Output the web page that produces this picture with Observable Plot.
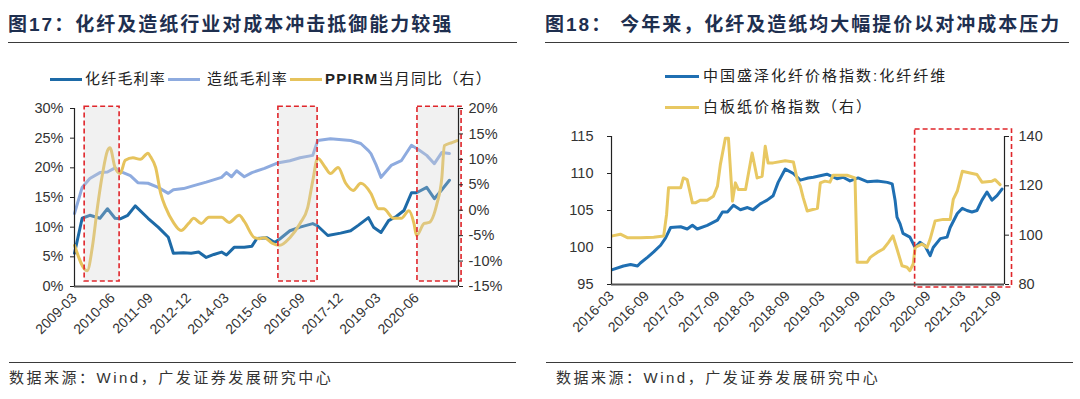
<!DOCTYPE html>
<html><head><meta charset="utf-8">
<script src="https://cdn.jsdelivr.net/npm/d3@7"></script>
<script src="https://cdn.jsdelivr.net/npm/@observablehq/plot@0.6"></script>
<style>
body{margin:0;background:#fff;}
#wrap{position:relative;width:1080px;height:399px;overflow:hidden;font-family:"Noto Sans CJK SC",sans-serif;background:#fff;}
.title{position:absolute;top:13px;font-size:19px;font-weight:700;color:#1e2f4f;letter-spacing:2px;white-space:nowrap;line-height:24px;font-family:"Liberation Sans","Noto Sans CJK SC",sans-serif;}
.rule{position:absolute;height:0;border-top:1.5px solid #3a3a3a;}
.legtxt{position:absolute;font-size:15px;color:#222;white-space:nowrap;line-height:20px;font-family:"Liberation Sans","Noto Sans CJK SC",sans-serif;}
.sw{position:absolute;height:3px;}
.foot{position:absolute;top:368px;font-size:15px;color:#333;letter-spacing:2.5px;white-space:nowrap;line-height:20px;font-family:"Liberation Sans","Noto Sans CJK SC",sans-serif;}
.plot{position:absolute;top:0;}
</style></head>
<body>
<div id="wrap"></div>
<script>
// ---------------- Left chart (图17) data ----------------
const fiberDates = ["2009-03","2009-06","2009-09","2010-01","2010-04","2010-07","2010-09","2010-12","2011-03","2011-08","2011-12","2012-04","2012-06","2012-10","2013-01","2013-04","2013-07","2013-10","2014-01","2014-03","2014-06","2014-10","2015-01","2015-03","2015-07","2015-10","2015-12","2016-04","2016-08","2017-01","2017-03","2017-07","2017-12","2018-04","2018-07","2018-11","2019-01","2019-04","2019-07","2019-10","2020-01","2020-04","2020-06","2020-10","2021-01","2021-04","2021-07"];
const fiberMargin = [5.6,11.5,12.0,11.5,13.1,11.5,11.4,12.0,13.6,11.5,10.0,8.3,5.6,5.7,5.6,5.8,4.9,5.4,5.8,5.3,6.6,6.6,6.8,8.1,8.2,7.4,8.0,9.4,10.0,10.6,10.2,8.6,9.0,9.4,10.3,11.6,10.0,9.1,11.1,11.8,12.8,15.8,15.8,16.7,14.8,16.3,17.9];

const paperDates = ["2009-03","2009-06","2009-09","2010-01","2010-04","2010-07","2010-09","2011-01","2011-04","2011-08","2011-12","2012-04","2012-06","2012-10","2013-02","2013-07","2014-01","2014-03","2014-05","2014-07","2014-10","2015-01","2015-06","2015-11","2016-04","2016-08","2017-01","2017-03","2017-08","2018-04","2018-08","2018-11","2018-12","2019-02","2019-04","2019-08","2019-12","2020-04","2020-07","2020-10","2021-01","2021-04","2021-07"];
const paperMargin = [12.3,16.7,18.2,19.2,19.3,20.0,19.4,18.7,17.5,17.4,16.7,15.7,16.3,16.5,17.0,17.6,18.4,19.2,18.5,19.5,18.5,19.2,19.9,20.8,21.2,21.7,22.1,24.6,24.9,24.6,24.1,22.9,22.4,20.5,18.4,20.4,21.2,23.8,23.0,22.1,20.7,22.6,22.4];

const ppirmDates = ["2009-03","2009-08","2009-10","2009-12","2010-02","2010-04","2010-05","2010-07","2010-09","2010-11","2011-02","2011-05","2011-08","2011-09","2011-11","2012-01","2012-03","2012-06","2012-09","2012-12","2013-02","2013-05","2013-08","2014-01","2014-04","2014-08","2014-10","2015-02","2015-04","2015-06","2015-09","2015-12","2016-04","2016-08","2016-11","2017-01","2017-03","2017-06","2017-08","2017-11","2018-02","2018-05","2018-08","2018-12","2019-03","2019-05","2019-09","2019-12","2020-03","2020-05","2020-06","2020-09","2020-11","2021-02","2021-04","2021-05","2021-08","2021-10"];
const ppirmYoY = [-6.9,-11.9,-7.3,0.5,7.2,11.7,12.3,8.4,7.2,9.8,10.3,10.0,11.2,10.5,8.4,3.3,0.5,-2.4,-4.0,-2.6,-1.6,-2.6,-1.4,-1.4,-2.4,-1.0,-2.2,-5.4,-5.6,-5.4,-6.5,-6.9,-5.4,-2.6,0.5,5.8,10.2,8.4,7.2,8.4,5.3,3.9,5.3,3.3,0.3,0.3,-1.6,-1.6,-0.1,-2.6,-5.0,-2.6,-2.4,1.3,6.4,12.7,13.3,13.7];

const leftXTicks = ["2009-03","2010-06","2011-09","2012-12","2014-03","2015-06","2016-09","2017-12","2019-03","2020-06"];
const leftYTicks = [0,5,10,15,20,25,30];
const leftY2Ticks = [-15,-10,-5,0,5,10,15,20];
const leftBoxStart = ["2009-07-01","2015-11-15","2020-06-12"];
const leftBoxEnd   = ["2010-08-25","2017-02-28","2021-11-24"];
const leftLegend = ["化纤毛利率","造纸毛利率","PPIRM当月同比（右）"];

// ---------------- Right chart (图18) data ----------------
const fiberIdxDates = ["2016-03-06","2016-05-02","2016-06-08","2016-07-14","2016-07-29","2016-09-05","2016-10-06","2016-11-11","2016-12-07","2017-01-02","2017-02-23","2017-03-29","2017-04-25","2017-05-20","2017-07-11","2017-09-02","2017-09-28","2017-10-24","2017-11-24","2017-12-30","2018-02-05","2018-03-06","2018-04-12","2018-05-18","2018-06-18","2018-07-14","2018-08-20","2018-10-01","2018-11-06","2018-12-17","2019-01-13","2019-03-24","2019-05-15","2019-06-16","2019-07-22","2019-09-02","2019-10-19","2019-12-10","2020-02-01","2020-02-26","2020-03-12","2020-03-22","2020-04-07","2020-04-22","2020-05-28","2020-06-24","2020-07-19","2020-08-15","2020-09-10","2020-09-26","2020-11-02","2020-12-07","2020-12-23","2021-01-29","2021-02-24","2021-03-20","2021-04-15","2021-05-11","2021-06-06","2021-07-02","2021-07-28","2021-08-23","2021-09-18"];
const fiberIdx = [97.0,97.5,97.7,97.5,97.9,98.7,99.4,100.3,101.3,102.7,102.8,102.5,103.0,102.5,103.0,103.7,104.8,104.8,105.7,105.1,105.4,105.1,105.9,106.4,107.0,108.8,110.6,110.0,109.1,109.4,109.5,109.9,109.3,109.5,109.0,109.4,108.9,109.0,108.8,108.6,106.4,104.1,103.2,101.9,101.4,100.0,100.7,100.2,98.9,100.0,101.2,101.4,102.7,104.6,105.3,105.0,104.8,105.0,106.4,107.5,106.4,107.0,107.9];

const boardDates = ["2016-03-06","2016-04-16","2016-05-22","2016-07-29","2016-10-06","2016-11-27","2016-12-12","2016-12-22","2017-02-23","2017-03-09","2017-03-29","2017-04-25","2017-05-10","2017-06-06","2017-07-11","2017-08-12","2017-09-02","2017-09-17","2017-10-13","2017-10-29","2017-11-19","2017-12-04","2017-12-20","2018-01-26","2018-03-01","2018-03-27","2018-04-22","2018-05-08","2018-05-23","2018-06-18","2018-08-20","2018-10-01","2018-10-21","2018-11-06","2018-11-21","2018-12-12","2019-02-03","2019-02-18","2019-03-14","2019-04-09","2019-04-25","2019-07-06","2019-08-17","2019-08-28","2019-10-19","2019-11-04","2019-12-10","2020-01-11","2020-02-06","2020-03-01","2020-03-22","2020-04-17","2020-05-13","2020-05-28","2020-06-14","2020-06-24","2020-07-29","2020-08-25","2020-09-10","2020-10-06","2020-11-17","2020-12-23","2021-01-08","2021-01-29","2021-02-24","2021-04-05","2021-05-11","2021-06-06","2021-07-28","2021-08-13","2021-09-08"];
const boardIdx = [99.7,100.4,99.0,99.0,99.2,99.7,108.5,119.2,119.2,123.2,122.5,113.1,113.1,114.2,114.2,115.8,119.9,128.6,139.3,139.3,113.8,121.2,118.5,118.5,133.3,123.2,123.9,136.0,129.3,129.3,130.2,129.7,122.6,119.9,115.2,109.8,110.9,121.2,121.9,121.5,124.3,124.3,123.2,89.0,89.0,91.0,93.0,94.4,97.0,99.7,94.4,87.6,87.0,85.6,88.3,95.0,96.4,95.0,98.4,105.8,106.4,106.4,114.5,117.9,125.9,125.2,124.6,121.5,121.9,122.5,120.5];

const rightXTicks = ["2016-03","2016-09","2017-03","2017-09","2018-03","2018-09","2019-03","2019-09","2020-03","2020-09","2021-03","2021-09"];
const rightYTicks = [95,100,105,110,115];
const rightY2Ticks = [80,100,120,140];
const rightBoxStart = ["2020-06-24"];
const rightBoxEnd = ["2021-11-09"];
const rightLegend = ["中国盛泽化纤价格指数:化纤纤维","白板纸价格指数（右）"];

// ---------------- build ----------------
const pM = d3.utcParse("%Y-%m");
const pD = d3.utcParse("%Y-%m-%d");
const fmt = d3.utcFormat("%Y-%m");
const wrap = document.getElementById("wrap");

const C = {dark:"#1d6aa7", light:"#8eabdf", yellow:"#e6c35c", red:"#e0262b"};
const axisFont = "Liberation Sans, Arial, sans-serif";

function el(cls, style, text){
  const d = document.createElement("div");
  d.className = cls;
  Object.assign(d.style, style);
  if (text != null) d.innerHTML = text;
  wrap.appendChild(d);
  return d;
}

// --- left chart ---
const fiber = fiberDates.map((d,i)=>({date:pM(d), v:fiberMargin[i]}));
const paper = paperDates.map((d,i)=>({date:pM(d), v:paperMargin[i]}));
const ppirm = ppirmDates.map((d,i)=>({date:pM(d), v:ppirmYoY[i]}));
const lBoxes = leftBoxStart.map((s,i)=>({s:pD(s), e:pD(leftBoxEnd[i])}));
const toL = r => (r + 15) * 30 / 35;
const fromL = l => Math.round(l * 35 / 30 - 15);
const lx0 = pD("2009-03-01"), lx1 = pD("2021-10-18");

const leftPlot = Plot.plot({
  width: 540, height: 350,
  marginTop: 108, marginBottom: 64, marginLeft: 74, marginRight: 82,
  x: {type:"utc", domain:[lx0, lx1]},
  y: {domain:[0,30]},
  style: {fontFamily: axisFont, color:"#333", background:"transparent", overflow:"visible"},
  marks: [
    Plot.line(paper, {x:"date", y:"v", stroke:C.light, strokeWidth:3}),
    Plot.line(fiber, {x:"date", y:"v", stroke:C.dark, strokeWidth:3}),
    Plot.line(ppirm, {x:"date", y:d=>toL(d.v), stroke:C.yellow, strokeWidth:3, curve:"monotone-x"}),
    Plot.rect(lBoxes, {x1:"s", x2:"e", y1:()=>0.85, y2:()=>30.3, fill:"#cfcfcf", fillOpacity:0.3}),
    Plot.rect(lBoxes, {x1:"s", x2:"e", y1:()=>0.85, y2:()=>30.3, fill:"none", stroke:C.red, strokeWidth:1.6, strokeDasharray:"5,3"}),
    Plot.ruleY([0], {stroke:"#555", strokeWidth:2}),
    Plot.ruleX([lx0], {stroke:"#222", strokeWidth:1.2}),
    Plot.ruleX([lx1], {stroke:"#222", strokeWidth:1.2}),
    Plot.axisY(leftYTicks, {anchor:"left", tickSize:4, tickPadding:7, tickFormat:d=>d+"%", fontSize:14.5, stroke:"#222", label:null}),
    Plot.axisY(leftY2Ticks.map(toL), {anchor:"right", tickSize:4, tickPadding:6, tickFormat:d=>fromL(d)+"%", fontSize:14.5, stroke:"#222", label:null}),
    Plot.axisX(leftXTicks.map(pM), {tickFormat:fmt, tickRotate:-45, tickSize:0, tickPadding:9, fontSize:14, label:null})
  ]
});
leftPlot.classList.add("plot");
leftPlot.style.left = "0px";
wrap.appendChild(leftPlot);

// --- right chart ---
const fIdx = fiberIdxDates.map((d,i)=>({date:pD(d), v:fiberIdx[i]}));
const bIdx = boardDates.map((d,i)=>({date:pD(d), v:boardIdx[i]}));
const rBoxes = rightBoxStart.map((s,i)=>({s:pD(s), e:pD(rightBoxEnd[i])}));
const toR = r => 95 + (r - 80) / 3;
const fromR = l => Math.round((l - 95) * 3 + 80);
const rx0 = pD("2016-03-01"), rx1 = pD("2021-10-01");

const rightPlot = Plot.plot({
  width: 540, height: 350,
  marginTop: 136, marginBottom: 66, marginLeft: 71, marginRight: 76,
  x: {type:"utc", domain:[rx0, rx1]},
  y: {domain:[95,115]},
  style: {fontFamily: axisFont, color:"#333", background:"transparent", overflow:"visible"},
  marks: [
    Plot.line(fIdx, {x:"date", y:"v", stroke:"#1f6fb2", strokeWidth:3}),
    Plot.line(bIdx, {x:"date", y:d=>toR(d.v), stroke:"#e8c862", strokeWidth:3}),
    Plot.rect(rBoxes, {x1:"s", x2:"e", y1:()=>94.6, y2:()=>115.95, fill:"none", stroke:C.red, strokeWidth:1.6, strokeDasharray:"5,3"}),
    Plot.ruleY([95], {stroke:"#555", strokeWidth:2}),
    Plot.ruleX([rx0], {stroke:"#222", strokeWidth:1.2}),
    Plot.ruleX([rx1], {stroke:"#222", strokeWidth:1.2}),
    Plot.axisY(rightYTicks, {anchor:"left", tickSize:4, tickPadding:14, fontSize:14.5, stroke:"#222", label:null}),
    Plot.axisY(rightY2Ticks.map(toR), {anchor:"right", tickSize:4, tickPadding:10, tickFormat:d=>fromR(d), fontSize:14.5, stroke:"#222", label:null}),
    Plot.axisX(rightXTicks.map(pM), {tickFormat:fmt, tickRotate:-45, tickSize:0, tickPadding:9, fontSize:14, label:null})
  ]
});
rightPlot.classList.add("plot");
rightPlot.style.left = "540px";
wrap.appendChild(rightPlot);

// --- titles, rules, legends, footers ---
el("title", {left:"8px"}, "图17：化纤及造纸行业对成本冲击抵御能力较强");
el("title", {left:"545px"}, "图18：<span style='margin-left:8px'>今年来，化纤及造纸均大幅提价以对冲成本压力</span>");
el("rule", {left:"8px", width:"509px", top:"42px"});
el("rule", {left:"545px", width:"524px", top:"42px"});
el("rule", {left:"9px", width:"507px", top:"362px"});
el("rule", {left:"546px", width:"527px", top:"362px"});
el("foot", {left:"9px"}, "数据来源：Wind，广发证券发展研究中心");
el("foot", {left:"556px"}, "数据来源：Wind，广发证券发展研究中心");

// left legend (one row)
const lSw = [50,168,290], lTx = [85,207,325], lCol = [C.dark, C.light, C.yellow];
leftLegend.forEach((t,i)=>{
  el("sw", {left:lSw[i]+"px", top:"78px", width:"32px", background:lCol[i]});
  const html = t.replace("PPIRM","<b>PPIRM</b>");
  el("legtxt", {left:lTx[i]+"px", top:"69px", letterSpacing:"1.2px"}, html);
});
// right legend (two rows)
const rTop = [76,107], rCol = ["#1f6fb2","#e8c862"];
rightLegend.forEach((t,i)=>{
  el("sw", {left:"665px", top:(rTop[i]-1)+"px", width:"34px", background:rCol[i]});
  el("legtxt", {left:"703px", top:(rTop[i]-10)+"px", letterSpacing:"2px"}, t);
});
</script>
</body></html>
